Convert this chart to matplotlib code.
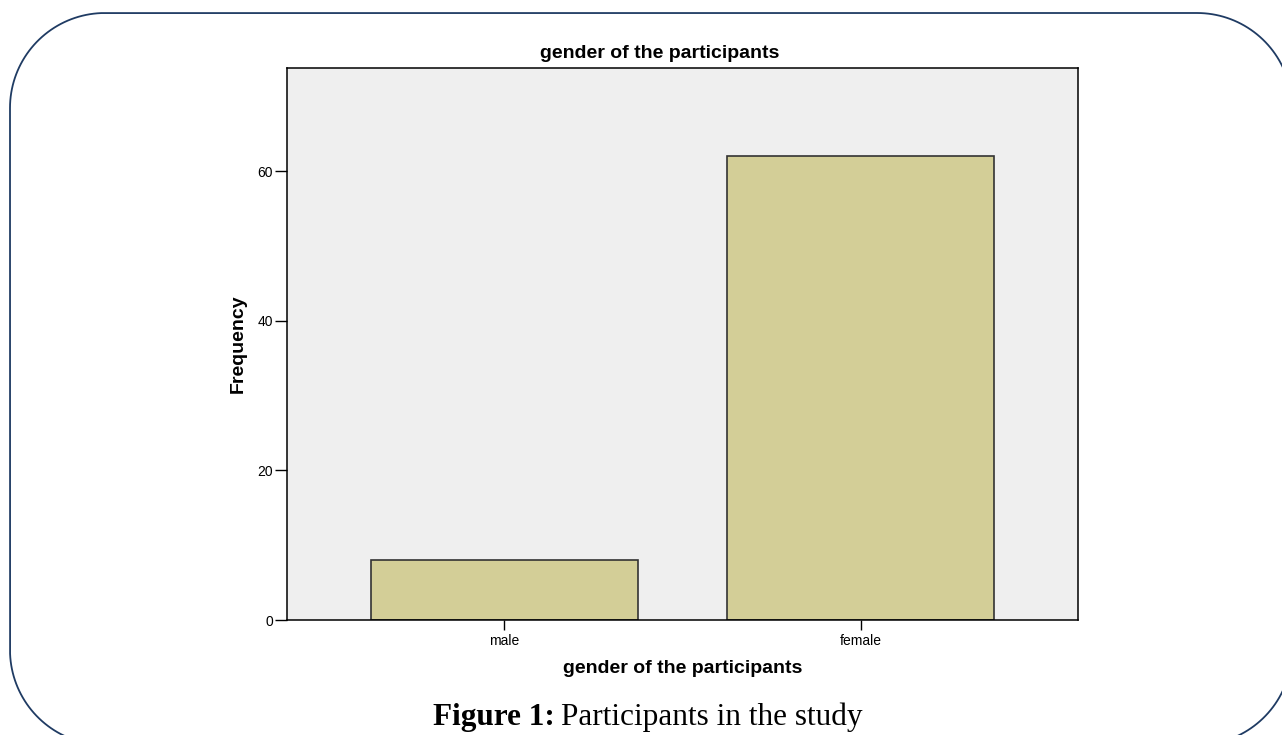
import numpy as np
import matplotlib
matplotlib.use('Agg')
import matplotlib.pyplot as plt

# Daten
categories = ['male', 'female']
frequency = [8, 62]
y_ticks = [0, 20, 40, 60]

W, H = 1282, 735
fig = plt.figure(figsize=(W / 100, H / 100), dpi=100)
fig.patch.set_facecolor('white')

# Rahmen mit abgerundeten Ecken (Pixel-Koordinaten, y nach oben)
bg = fig.add_axes([0, 0, 1, 1], zorder=-1)
bg.set_xlim(0, W)
bg.set_ylim(0, H)
bg.axis('off')
r = 95
left, right, top, bottom = 10, 1292, H - 13, -10
corners = [(right - r, top - r, 0, 90), (left + r, top - r, 90, 180),
           (left + r, bottom + r, 180, 270), (right - r, bottom + r, 270, 360)]
px, py = [], []
for cx, cy, a0, a1 in corners:
    a = np.radians(np.linspace(a0, a1, 40))
    px += list(cx + r * np.cos(a))
    py += list(cy + r * np.sin(a))
px.append(px[0])
py.append(py[0])
bg.plot(px, py, color='#1f3b63', linewidth=1.3, clip_on=False)

# Diagramm
ax = fig.add_axes([287 / W, (H - 620) / H, (1078 - 287) / W, (620 - 68) / H])
ax.set_facecolor('#efefef')
x = list(range(len(categories)))
ax.bar(x, frequency, width=0.75, color='#d3ce97', edgecolor='#333333', linewidth=1.2)
ax.set_xlim(-0.61, 1.61)
ax.set_ylim(0, 73.8)
ax.set_xticks(x)
ax.set_xticklabels(categories, fontsize=10, family='Liberation Sans')
ax.set_yticks(y_ticks)
ax.set_yticklabels([str(v) for v in y_ticks], fontsize=10, family='Liberation Sans')
ax.tick_params(axis='x', direction='out', length=7, width=1, colors='black', pad=3)
ax.tick_params(axis='y', direction='out', length=9, width=1, colors='black', pad=1)
for s in ax.spines.values():
    s.set_color('black')
    s.set_linewidth(1.1)

fig.text(660 / W, 1 - 54 / H, 'gender of the participants', fontsize=14,
         fontweight='bold', family='Liberation Sans', ha='center', va='center')
ax.set_xlabel('gender of the participants', fontsize=14, fontweight='bold',
              family='Liberation Sans', labelpad=9)
ax.set_ylabel('Frequency', fontsize=14, fontweight='bold',
              family='Liberation Sans', labelpad=8)

# Bildunterschrift
t1 = fig.text(433 / W, 1 - 725 / H, 'Figure 1:', fontsize=22.5, fontweight='bold',
              family='Liberation Serif', ha='left', va='baseline')
fig.canvas.draw()
ext = t1.get_window_extent()
fig.text((ext.x1 + 6) / W, 1 - 725 / H, 'Participants in the study', fontsize=22.5,
         family='Liberation Serif', ha='left', va='baseline')

fig.savefig('out.png', dpi=100)
